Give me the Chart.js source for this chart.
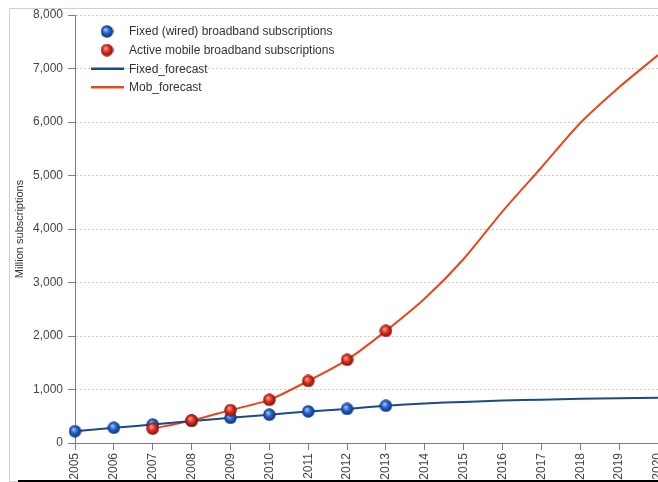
<!DOCTYPE html>
<html>
<head>
<meta charset="utf-8">
<script src="https://cdn.jsdelivr.net/npm/chart.js@4"></script>
<style>
  html, body { margin: 0; padding: 0; background: #fff; overflow: hidden; }
  #wrap { position: relative; width: 658px; height: 482px; }
</style>
</head>
<body>
<div id="wrap"><canvas id="chart" width="658" height="482"></canvas></div>
<script>
const years = ["2005","2006","2007","2008","2009","2010","2011","2012","2013","2014","2015","2016","2017","2018","2019","2020"];

// actual subscriptions (million)
const fixedActual = [220, 284, 345, 412, 470, 530, 590, 636, 696, null, null, null, null, null, null, null];
const mobileActual = [null, null, 268, 422, 615, 807, 1160, 1554, 2096, null, null, null, null, null, null, null];

// forecasts
const fixedForecast = [220, 284, 345, 412, 470, 530, 590, 636, 696, 740, 768, 795, 810, 826, 838, 845];
const mobForecast = [null, null, 268, 422, 615, 807, 1160, 1554, 2096, 2700, 3440, 4330, 5150, 5980, 6650, 7250];

const yTicks = [0, 1000, 2000, 3000, 4000, 5000, 6000, 7000, 8000];

// shaded ball used as the point marker
function ball(light, mid, dark) {
  const s = 13;
  const c = document.createElement("canvas");
  c.width = s; c.height = s;
  const g = c.getContext("2d");
  const grad = g.createRadialGradient(s * 0.38, s * 0.34, 0.5, s / 2, s / 2, s / 2);
  grad.addColorStop(0, light);
  grad.addColorStop(0.45, mid);
  grad.addColorStop(1, dark);
  g.fillStyle = grad;
  g.beginPath();
  g.arc(s / 2, s / 2, s / 2 - 0.3, 0, Math.PI * 2);
  g.fill();
  return c;
}
const blueBall = ball("#9cc4ff", "#2462c8", "#0b2f78");
const redBall = ball("#ff9a8a", "#e0301f", "#7c0c08");

const FONT = "'Liberation Sans', Arial, sans-serif";
const AXIS = "#7474c4";

// frame lines around the picture
const framePlugin = {
  id: "frame",
  beforeDraw(chart) {
    const ctx = chart.ctx;
    ctx.save();
    ctx.strokeStyle = "#d0d0d0";
    ctx.lineWidth = 1;
    ctx.beginPath();
    ctx.moveTo(9.5, 482);
    ctx.lineTo(9.5, 8.5);
    ctx.lineTo(658, 8.5);
    ctx.moveTo(9, 481.5);
    ctx.lineTo(18, 481.5);
    ctx.stroke();
    ctx.strokeStyle = "#000";
    ctx.lineWidth = 2;
    ctx.beginPath();
    ctx.moveTo(18, 481);
    ctx.lineTo(658, 481);
    ctx.stroke();
    ctx.restore();
  }
};

// legend drawn inside the plot, top left
const innerLegend = {
  id: "innerLegend",
  afterDraw(chart) {
    const ctx = chart.ctx;
    const a = chart.chartArea;
    ctx.save();
    ctx.font = "12px " + FONT;
    ctx.fillStyle = "#333";
    ctx.textBaseline = "middle";
    chart.data.datasets.forEach((ds, i) => {
      const y = a.top + 16.5 + i * 18.6;
      if (ds.showLine === false) {
        ctx.drawImage(ds.pointStyle, a.left + 32 - 6.5, y - 6.5);
      } else {
        ctx.strokeStyle = ds.borderColor;
        ctx.lineWidth = 2.5;
        ctx.beginPath();
        ctx.moveTo(a.left + 16, y);
        ctx.lineTo(a.left + 49, y);
        ctx.stroke();
      }
      ctx.fillText(ds.label, a.left + 54, y + 0.5);
    });
    ctx.restore();
  }
};

new Chart(document.getElementById("chart"), {
  type: "line",
  data: {
    labels: years,
    datasets: [
      {
        label: "Fixed (wired) broadband subscriptions",
        data: fixedActual,
        order: 1,
        showLine: false,
        pointStyle: blueBall,
        pointRadius: 6.5,
        borderColor: "#2462c8",
        backgroundColor: "#2462c8"
      },
      {
        label: "Active mobile broadband subscriptions",
        data: mobileActual,
        order: 0,
        showLine: false,
        pointStyle: redBall,
        pointRadius: 6.5,
        borderColor: "#e0301f",
        backgroundColor: "#e0301f"
      },
      {
        label: "Fixed_forecast",
        data: fixedForecast,
        order: 2,
        borderColor: "#1c4a86",
        borderWidth: 2,
        pointRadius: 0,
        tension: 0.25,
        fill: false
      },
      {
        label: "Mob_forecast",
        data: mobForecast,
        order: 3,
        borderColor: "#e8461c",
        borderWidth: 2,
        pointRadius: 0,
        tension: 0.25,
        fill: false
      }
    ]
  },
  options: {
    responsive: false,
    animation: false,
    devicePixelRatio: 1,
    layout: { autoPadding: false, padding: { top: 15, left: 0, right: 0, bottom: 0 } },
    plugins: {
      legend: { display: false },
      tooltip: { enabled: false }
    },
    scales: {
      x: {
        offset: false,
        grid: { drawOnChartArea: false, color: AXIS, tickLength: 7 },
        border: { color: AXIS, width: 1 },
        ticks: {
          minRotation: 90,
          maxRotation: 90,
          autoSkip: false,
          padding: 3,
          color: "#444",
          font: { family: FONT, size: 12 }
        },
        afterFit(s) { s.height = 39; s.paddingLeft = 0; s.paddingRight = 0; }
      },
      y: {
        min: 0,
        max: 8000,
        afterBuildTicks(s) { s.ticks = yTicks.map(v => ({ value: v })); },
        grid: { color: "#cccccc", tickColor: AXIS, tickLength: 7, tickBorderDash: [] },
        border: { color: AXIS, width: 1, dash: [2, 2] },
        ticks: {
          autoSkip: false,
          padding: 5,
          color: "#444",
          font: { family: FONT, size: 12 },
          callback: v => v.toLocaleString("en-US")
        },
        title: {
          display: true,
          text: "Million subscriptions",
          color: "#333",
          padding: { top: 13, bottom: 0 },
          font: { family: FONT, size: 11 }
        },
        afterFit(s) { s.width = 75; s.paddingTop = 0; s.paddingBottom = 0; }
      }
    }
  },
  plugins: [framePlugin, innerLegend]
});
</script>
</body>
</html>
